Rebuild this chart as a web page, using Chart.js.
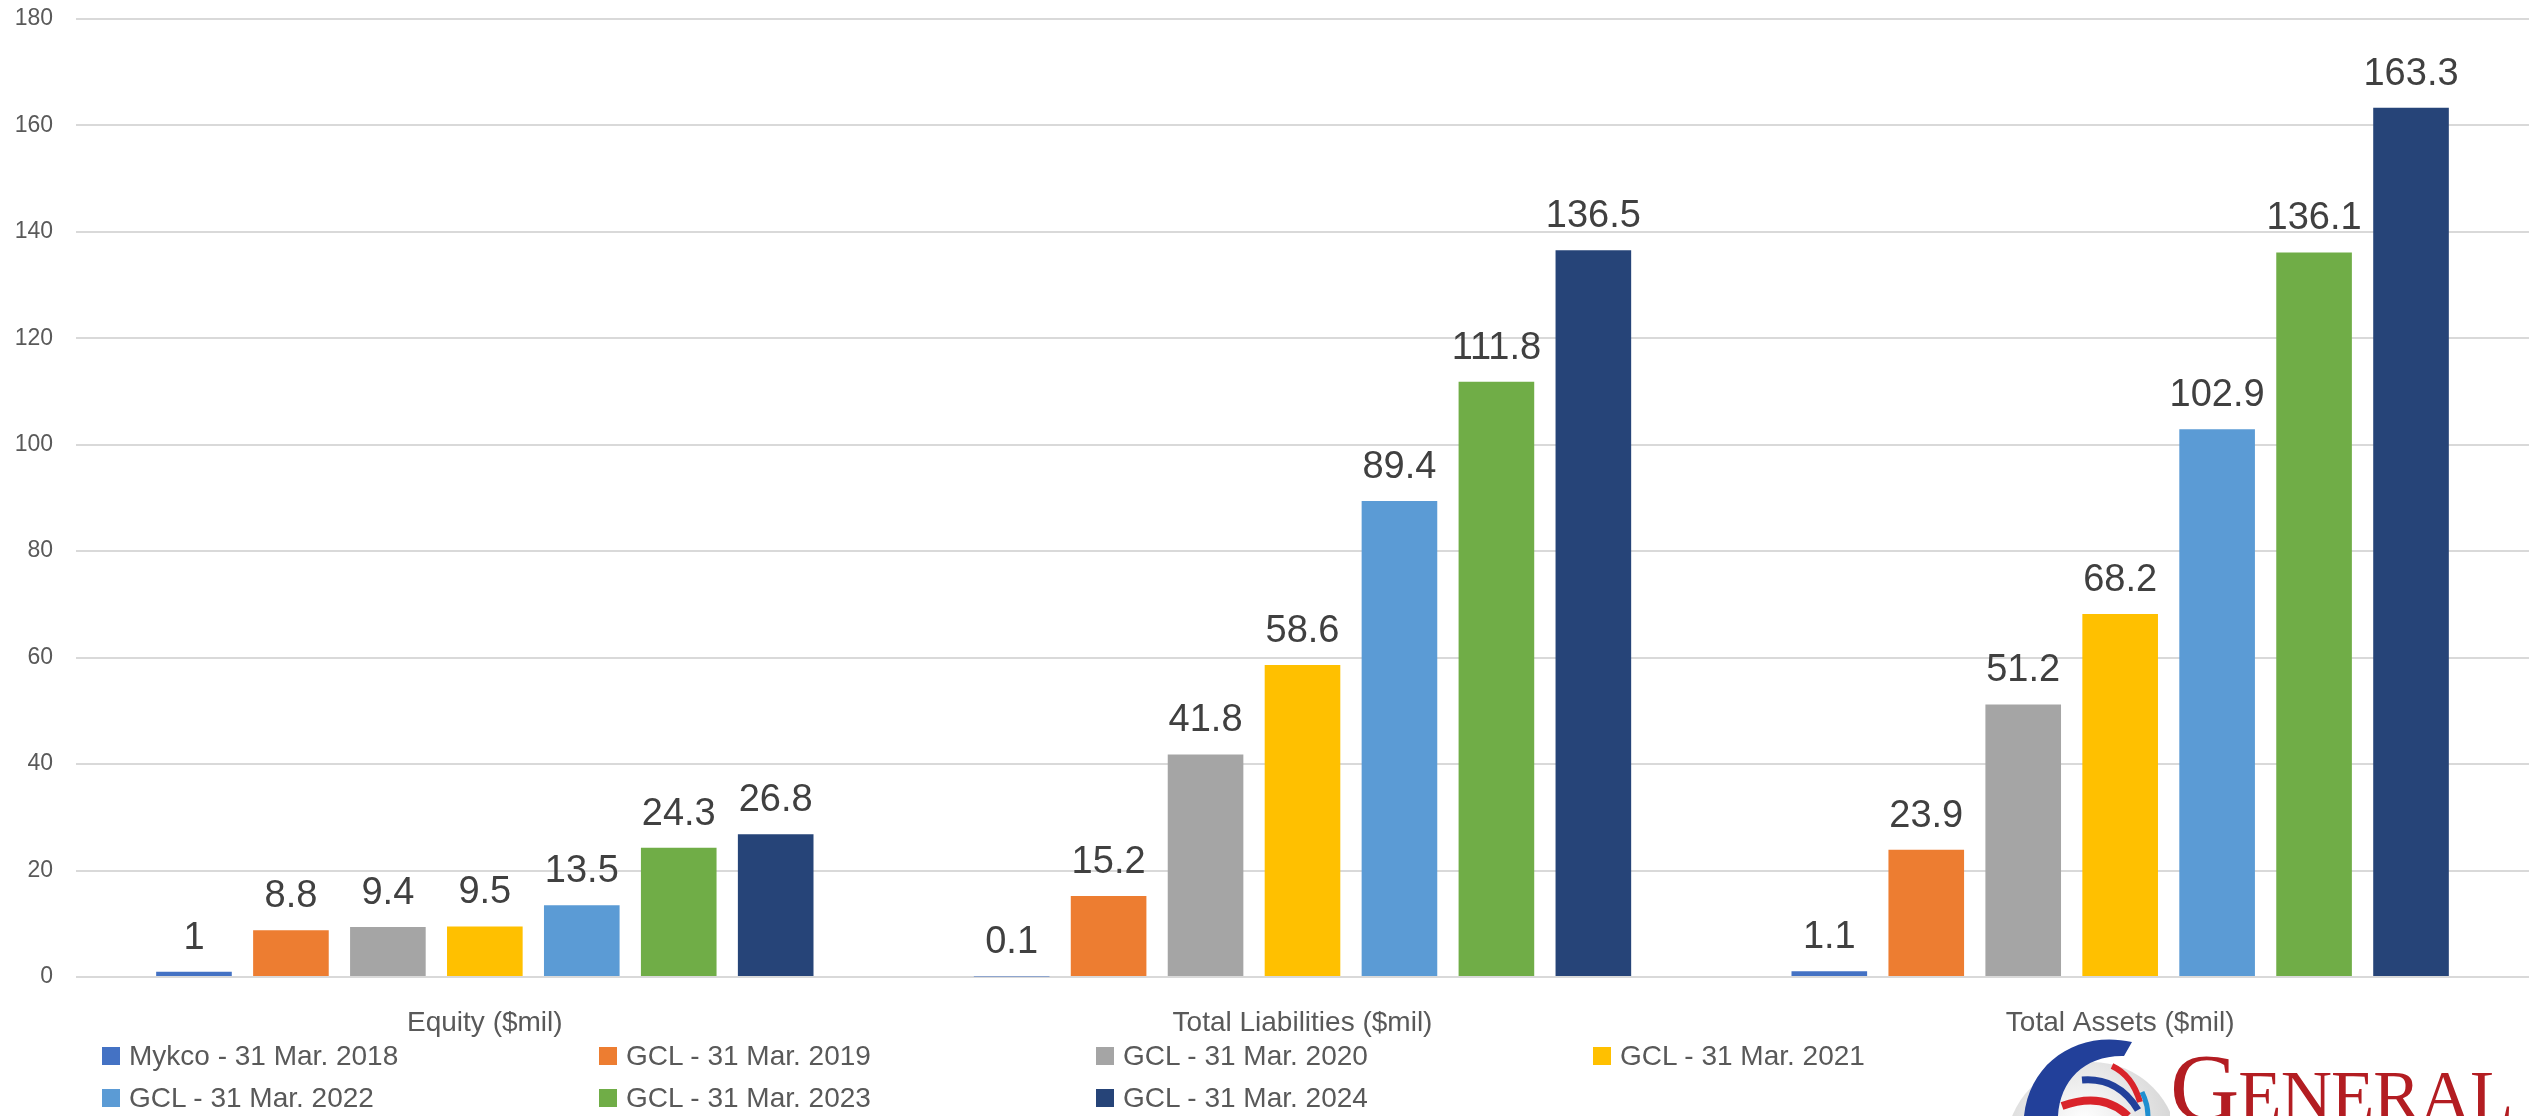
<!DOCTYPE html>
<html>
<head>
<meta charset="utf-8">
<script src="https://cdn.jsdelivr.net/npm/chart.js@4.4.1/dist/chart.umd.min.js"></script>
<style>
  html, body {
    margin: 0;
    padding: 0;
    background: #ffffff;
  }
  .chart-wrap {
    position: relative;
    width: 2529px;
    height: 1116px;
    overflow: hidden;
  }
  /* canvas sits a little higher so the 180 gridline lands near the top edge */
  #balanceChart {
    position: absolute;
    left: 0;
    top: -18px;
  }
  .legend {
    position: absolute;
    left: 102px;
    top: 1035px;
    display: grid;
    grid-template-columns: repeat(4, 497px);
    grid-auto-rows: 42px;
    font-family: "Liberation Sans", Arial, sans-serif;
    font-size: 28px;
    color: #595959;
  }
  .legend-item {
    display: flex;
    align-items: center;
    white-space: nowrap;
  }
  .legend-box {
    width: 18px;
    height: 18px;
    margin-right: 9px;
    flex: none;
  }
  .logo {
    position: absolute;
    left: 2000px;
    top: 1030px;
    width: 529px;
    height: 86px;
  }
  .logo-text {
    position: absolute;
    left: 170px;
    top: 10px;
    font-family: "Liberation Serif", "DejaVu Serif", serif;
    color: #b31d22;
    white-space: nowrap;
    line-height: 1;
    letter-spacing: -1px;
  }
  .logo-text .big {
    font-size: 96px;
  }
  .logo-text .small {
    font-size: 71px;
  }
</style>
</head>
<body>
<div class="chart-wrap">
  <canvas id="balanceChart" width="2529" height="1134"></canvas>
  <div class="legend" id="legend"></div>
  <div class="logo">
    <svg width="170" height="86" viewBox="0 0 170 86">
      <defs>
        <radialGradient id="ball" cx="0.45" cy="0.35" r="0.7">
          <stop offset="0" stop-color="#ffffff"/>
          <stop offset="1" stop-color="#c9c9c9"/>
        </radialGradient>
      </defs>
      <circle cx="92" cy="118" r="86" fill="url(#ball)"/>
      <path d="M132 12 C 80 0, 30 30, 24 86 L 58 86 C 60 50, 85 25, 124 26 Z" fill="#22409a"/>
      <path d="M112 36 C 125 42, 135 55, 140 72" stroke="#d9232a" stroke-width="6" fill="none"/>
      <path d="M82 50 C 105 48, 125 58, 138 80" stroke="#22409a" stroke-width="7" fill="none"/>
      <path d="M62 76 C 90 66, 112 70, 128 86" stroke="#d9232a" stroke-width="8" fill="none"/>
      <path d="M142 62 C 146 70, 148 78, 148 86" stroke="#1f8fd0" stroke-width="5" fill="none"/>
    </svg>
    <div class="logo-text"><span class="big">G</span><span class="small">ENERAL</span></div>
  </div>
</div>

<script>
const categories = ["Equity ($mil)", "Total Liabilities ($mil)", "Total Assets ($mil)"];

const seriesLabels = [
  "Mykco - 31 Mar. 2018",
  "GCL - 31 Mar. 2019",
  "GCL - 31 Mar. 2020",
  "GCL - 31 Mar. 2021",
  "GCL - 31 Mar. 2022",
  "GCL - 31 Mar. 2023",
  "GCL - 31 Mar. 2024"
];

// values per period: equity, total liabilities, total assets
const mykco2018 = [1, 0.1, 1.1];
const gcl2019 = [8.8, 15.2, 23.9];
const gcl2020 = [9.4, 41.8, 51.2];
const gcl2021 = [9.5, 58.6, 68.2];
const gcl2022 = [13.5, 89.4, 102.9];
const gcl2023 = [24.3, 111.8, 136.1];
const gcl2024 = [26.8, 136.5, 163.3];

const yTicks = [0, 20, 40, 60, 80, 100, 120, 140, 160, 180];

const seriesValues = [mykco2018, gcl2019, gcl2020, gcl2021, gcl2022, gcl2023, gcl2024];
const seriesColors = ["#4472c4", "#ed7d31", "#a5a5a5", "#ffc000", "#5b9bd5", "#70ad47", "#264478"];

// draws the value above each bar, like the data labels in the original
const barValueLabels = {
  id: "barValueLabels",
  afterDatasetsDraw(chart) {
    const ctx = chart.ctx;
    ctx.save();
    ctx.font = "38px 'Liberation Sans', Arial, sans-serif";
    ctx.fillStyle = "#404040";
    ctx.textAlign = "center";
    ctx.textBaseline = "alphabetic";
    chart.data.datasets.forEach((ds, i) => {
      const meta = chart.getDatasetMeta(i);
      meta.data.forEach((bar, j) => {
        ctx.fillText(String(ds.data[j]), bar.x, bar.y - 23);
      });
    });
    ctx.restore();
  }
};

const balanceChart = new Chart(document.getElementById("balanceChart"), {
  type: "bar",
  data: {
    labels: categories,
    datasets: seriesLabels.map((label, i) => ({
      label: label,
      data: seriesValues[i],
      backgroundColor: seriesColors[i],
      borderWidth: 0,
      categoryPercentage: 0.83,
      barPercentage: 0.78
    }))
  },
  options: {
    responsive: false,
    animation: false,
    layout: {
      padding: {
        top: 0,
        right: 0,
        bottom: 59,
        left: 0
      }
    },
    plugins: {
      legend: {
        display: false
      },
      tooltip: {
        enabled: false
      }
    },
    scales: {
      x: {
        grid: {
          display: false
        },
        border: {
          display: false
        },
        ticks: {
          color: "#595959",
          padding: 21,
          font: {
            family: "'Liberation Sans', Arial, sans-serif",
            size: 28
          }
        },
        afterFit(scale) {
          scale.height = 80;
        }
      },
      y: {
        min: 0,
        max: 180,
        afterBuildTicks(scale) {
          scale.ticks = yTicks.map(v => ({ value: v }));
        },
        grid: {
          color: "#d9d9d9",
          lineWidth: 2,
          drawTicks: false
        },
        border: {
          display: false
        },
        ticks: {
          color: "#595959",
          padding: 23,
          font: {
            family: "'Liberation Sans', Arial, sans-serif",
            size: 23
          }
        },
        afterFit(scale) {
          scale.width = 76;
        }
      }
    }
  },
  plugins: [barValueLabels]
});

// legend laid out in four fixed columns, built from the chart's own legend items
const legendEl = document.getElementById("legend");
balanceChart.options.plugins.legend.labels.generateLabels(balanceChart).forEach(item => {
  const el = document.createElement("div");
  el.className = "legend-item";
  el.innerHTML = `<span class="legend-box" style="background:${item.fillStyle}"></span><span>${item.text}</span>`;
  legendEl.appendChild(el);
});
</script>
</body>
</html>
